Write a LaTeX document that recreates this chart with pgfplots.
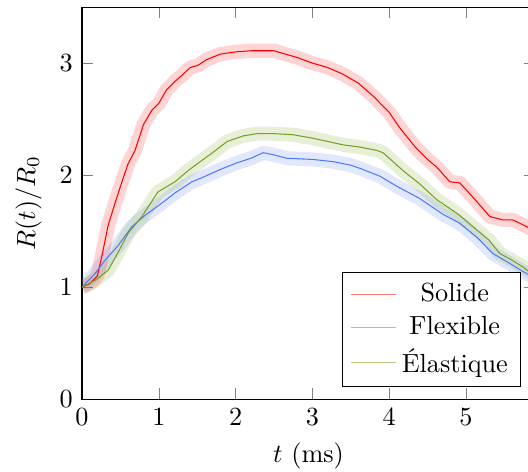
\documentclass[border=0pt]{standalone}
\usepackage{pgfplots}
\usepackage{pgfplotstable}
\pgfplotsset{compat=1.18}
\definecolor{cred}{rgb}{1,0,0}
\definecolor{cblue}{RGB}{80,120,250}
\definecolor{cgreen}{RGB}{120,160,30}

\pgfplotstableread{
t R
0 1.00
0.1 1.03
0.2 1.10
0.26 1.28
0.34 1.55
0.43 1.75
0.52 1.94
0.6 2.10
0.69 2.22
0.8 2.45
0.91 2.58
1.0 2.64
1.1 2.76
1.2 2.83
1.3 2.89
1.41 2.96
1.51 2.98
1.62 3.03
1.8 3.08
2.0 3.10
2.2 3.11
2.5 3.11
2.6 3.09
2.8 3.05
3.0 3.00
3.2 2.96
3.4 2.90
3.6 2.82
3.8 2.70
4.0 2.56
4.14 2.42
4.34 2.25
4.5 2.14
4.62 2.07
4.79 1.94
4.92 1.93
5.12 1.78
5.31 1.63
5.48 1.60
5.61 1.60
5.79 1.54
5.9 1.50
}\solide

\pgfplotstableread{
t R
0 1.0
0.17 1.12
0.3 1.24
0.47 1.37
0.65 1.54
0.82 1.64
1.04 1.75
1.21 1.84
1.43 1.94
1.54 1.97
1.8 2.05
2.02 2.11
2.2 2.15
2.36 2.20
2.5 2.18
2.67 2.15
3.0 2.14
3.27 2.12
3.49 2.09
3.62 2.06
3.88 1.99
4.1 1.90
4.4 1.79
4.7 1.65
4.92 1.57
5.15 1.44
5.35 1.30
5.55 1.22
5.74 1.14
5.9 1.08
}\flexible

\pgfplotstableread{
t R
0 1.0
0.17 1.06
0.34 1.15
0.47 1.31
0.6 1.48
0.78 1.63
0.99 1.85
1.21 1.94
1.4 2.05
1.54 2.12
1.7 2.20
1.89 2.30
2.1 2.35
2.28 2.37
2.5 2.37
2.75 2.36
3.0 2.33
3.2 2.30
3.4 2.27
3.62 2.25
3.84 2.22
3.92 2.20
4.05 2.12
4.18 2.04
4.4 1.92
4.62 1.78
4.9 1.65
5.14 1.51
5.3 1.42
5.44 1.30
5.6 1.24
5.74 1.18
5.9 1.10
}\elastique

\begin{document}
\begin{tikzpicture}
\begin{axis}[
  scale only axis,
  width=172.9pt, height=149.6pt,
  xmin=0, xmax=5.9, ymin=0, ymax=3.5,
  xtick={0,1,2,3,4,5}, ytick={0,1,2,3},
  xlabel={$t$ (ms)}, ylabel={$R(t)/R_0$},
  legend cell align=center,
  legend style={at={(0.97,0.03)}, anchor=south east},
  legend image post style={opacity=0.55},
]
\addplot[cred, line width=5.4pt, opacity=0.17, line join=round, forget plot] table[x=t,y=R] {\solide};
\addplot[cblue, line width=5.4pt, opacity=0.17, line join=round, forget plot] table[x=t,y=R] {\flexible};
\addplot[cgreen, line width=5.4pt, opacity=0.17, line join=round, forget plot] table[x=t,y=R] {\elastique};
\addplot[cred, thin] table[x=t,y=R] {\solide};
\addlegendentry{Solide}
\addplot[cblue, thin] table[x=t,y=R] {\flexible};
\addlegendentry{Flexible}
\addplot[cgreen, thin] table[x=t,y=R] {\elastique};
\addlegendentry{Élastique}
\end{axis}
\pgfresetboundingbox
\path[use as bounding box] (-31.3pt,-27.5pt) rectangle (170.2pt,152.3pt);
\end{tikzpicture}
\end{document}
